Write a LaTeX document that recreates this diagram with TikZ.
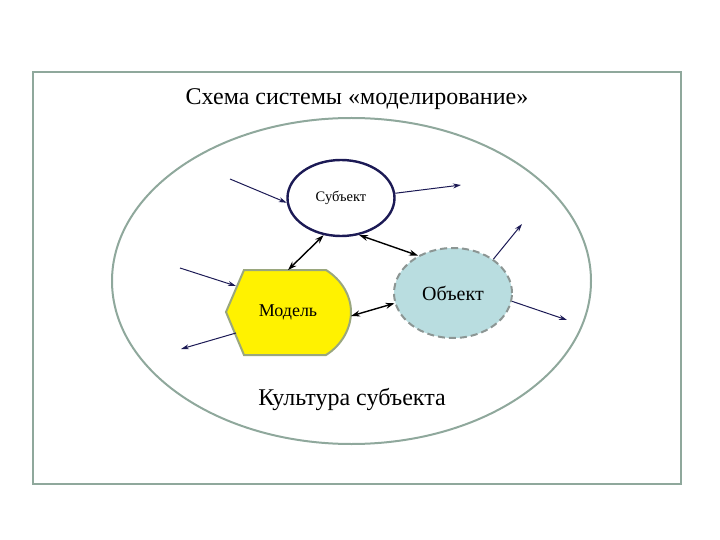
\documentclass[tikz,border=0pt]{standalone}
\usepackage{fontspec}
\setmainfont{Liberation Serif}
\usetikzlibrary{arrows.meta, shapes.geometric}
\definecolor{framegray}{HTML}{8FA89C}
\definecolor{navy}{HTML}{1C1A55}
\definecolor{objblue}{HTML}{B9DDE0}
\definecolor{dashgray}{HTML}{8C9694}
\definecolor{modelline}{HTML}{9AA77E}
\begin{document}
\begin{tikzpicture}[x=1pt, y=-1pt,
    subj/.style = {draw=navy, line width=2.4pt, ellipse, minimum width=107pt, minimum height=76pt, font=\fontsize{14.5}{17}\selectfont},
    obj/.style = {draw=dashgray, dashed, dash pattern=on 7pt off 4pt, line width=2pt, fill=objblue, ellipse, minimum width=118pt, minimum height=90pt, font=\fontsize{20}{24}\selectfont},
    model/.style = {minimum width=124pt, minimum height=85pt, inner sep=0pt, font=\fontsize{18}{21}\selectfont},
    thin/.style = {navy, line width=1pt, -{Stealth[length=8pt, width=5pt]}},
    both/.style = {black, line width=1.4pt, {Stealth[length=9pt, width=6pt]}-{Stealth[length=9pt, width=6pt]}}]
\useasboundingbox (0,0) rectangle (720,540);
\draw[framegray, line width=2pt] (33,72) rectangle (681,484);
\draw[framegray, line width=2pt] (351.5,281) ellipse (239.5 and 163);
\node[font=\fontsize{24}{28}\selectfont] (title) at (357,99) {Схема системы «моделирование»};
\node[font=\fontsize{24}{28}\selectfont] (culture) at (352,399) {Культура субъекта};
% model shape
\fill[yellow] (244,270) -- (326,270) .. controls (342,280) and (351,296) .. (351,312) .. controls (351,328) and (342,345) .. (326,355) -- (244,355) -- (226,312) -- cycle;
\draw[modelline, line width=2pt] (244,270) -- (326,270) .. controls (342,280) and (351,296) .. (351,312) .. controls (351,328) and (342,345) .. (326,355) -- (244,355) -- (226,312) -- cycle;
\node[model] (model) at (288,312) {Модель};
\node[subj] (subj) at (341,198) {Субъект};
\node[obj] (obj) at (453,293) {Объект};
% free ends
\coordinate (s-in) at (230,179);
\coordinate (s-out) at (461,185);
\coordinate (m-in) at (180,268);
\coordinate (m-out) at (181,349);
\coordinate (o-up) at (522,224);
\coordinate (o-out) at (567,320);
\coordinate (m-top) at (288,270);
\coordinate (m-right) at (351,316);
\coordinate (m-left1) at (236,286);
\coordinate (m-left2) at (236,333);
\draw[thin] (s-in) -- (subj.185);
\draw[thin] (subj.5) -- (s-out);
\draw[thin] (m-in) -- (m-left1);
\draw[thin] (m-left2) -- (m-out);
\draw[thin] (obj.40) -- (o-up);
\draw[thin] (obj.352) -- (o-out);
\draw[both] (subj.245) -- (m-top);
\draw[both] (subj.296) -- (obj.133);
\draw[both] (m-right) -- (obj.190);
\end{tikzpicture}
\end{document}
